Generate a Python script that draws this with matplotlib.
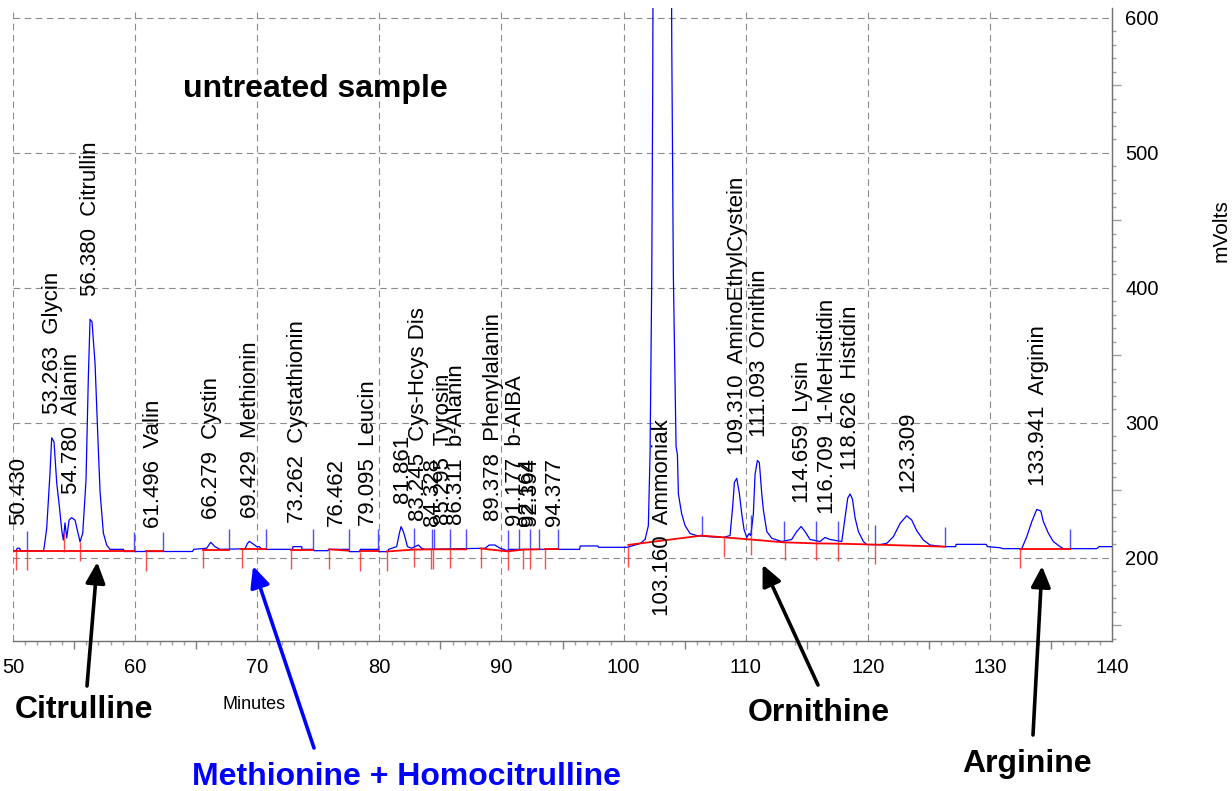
import numpy as np
import matplotlib
matplotlib.use('Agg')
import matplotlib.pyplot as plt
from matplotlib.ticker import FixedLocator, MultipleLocator, FuncFormatter

plt.rcParams['font.family'] = ['Liberation Sans', 'DejaVu Sans']

# detector signal, (minutes, mV)
trace = [
    (50.0, 205.3), (50.25, 205.3), (50.35, 207.2), (50.55, 207.2), (50.62, 205.3),
    (52.5, 205.3), (52.56, 208.4), (52.76, 222.0), (53.03, 263.0), (53.17, 289.0),
    (53.36, 286.0), (53.58, 255.5), (53.8, 238.0), (53.99, 220.7), (54.12, 213.3),
    (54.26, 226.0), (54.4, 214.8), (54.59, 228.0), (54.8, 229.9), (55.08, 228.0),
    (55.27, 220.7), (55.49, 212.0), (55.71, 218.3), (55.98, 257.8), (56.17, 334.0),
    (56.31, 376.8), (56.47, 375.0), (56.72, 344.0), (56.99, 280.0), (57.13, 249.0),
    (57.4, 218.5), (57.67, 209.6), (57.94, 206.4), (59.05, 206.4), (59.1, 204.8),
    (64.7, 204.8), (64.8, 206.4), (65.86, 207.2), (66.19, 211.6), (66.54, 208.4),
    (66.95, 206.4), (69.0, 206.8), (69.19, 210.6), (69.35, 212.3), (69.63, 210.6),
    (69.96, 208.4), (70.17, 208.4), (70.37, 206.4), (72.9, 206.4), (72.92, 208.4),
    (73.64, 208.4), (73.66, 206.4), (74.6, 206.4), (74.65, 205.4), (75.8, 205.4),
    (75.85, 206.4), (77.5, 206.4), (77.55, 204.7), (78.4, 204.7), (78.45, 206.4),
    (79.9, 206.4), (79.95, 204.7), (80.7, 204.7), (80.75, 206.4), (81.42, 208.4),
    (81.64, 218.3), (81.78, 223.2), (81.97, 219.5), (82.13, 214.6), (82.3, 208.4),
    (82.65, 207.2), (82.92, 208.4), (83.2, 209.6), (83.47, 207.2), (83.74, 206.4),
    (88.66, 207.2), (89.0, 209.6), (89.47, 209.6), (89.88, 207.2), (90.2, 206.4),
    (90.43, 205.4), (90.7, 206.4), (96.4, 206.4), (96.45, 208.9), (97.9, 208.9),
    (97.95, 207.9), (100.3, 207.9), (101.35, 210.7), (101.76, 213.7), (102.03, 223.9),
    (102.17, 276.7), (102.31, 408.4), (102.39, 554.8), (102.44, 700.0), (103.16, 2400.0),
    (103.89, 700.0), (103.95, 578.0), (104.08, 408.4), (104.3, 282.5), (104.41, 276.7),
    (104.49, 247.4), (104.76, 232.7), (105.04, 223.9), (105.45, 218.1), (105.99, 216.6),
    (107.08, 215.7), (108.17, 215.2), (108.72, 216.6), (108.94, 238.5), (109.08, 256.1),
    (109.27, 259.0), (109.49, 247.4), (109.68, 232.7), (109.87, 221.0), (110.09, 215.2),
    (110.28, 218.1), (110.42, 216.6), (110.63, 232.7), (110.77, 262.0), (110.96, 272.2),
    (111.12, 270.7), (111.32, 247.4), (111.45, 235.6), (111.73, 219.6), (112.14, 214.6),
    (112.96, 212.2), (113.77, 213.7), (114.18, 219.6), (114.54, 223.3), (114.86, 219.6),
    (115.27, 213.7), (116.09, 212.2), (116.5, 215.2), (116.91, 213.7), (117.87, 212.2),
    (118.09, 226.9), (118.36, 244.4), (118.55, 247.4), (118.74, 243.8), (118.96, 229.8),
    (119.23, 219.6), (119.64, 212.2), (119.92, 209.9), (121.0, 209.9), (121.56, 210.9),
    (122.1, 215.8), (122.65, 225.7), (123.19, 231.3), (123.6, 228.1), (124.01, 220.2),
    (124.55, 213.3), (125.1, 209.6), (126.19, 208.4), (127.2, 208.4), (127.23, 210.1),
    (129.69, 210.1), (129.8, 208.4), (130.84, 207.6), (131.06, 206.9), (132.61, 206.9),
    (133.02, 215.8), (133.43, 226.9), (133.84, 236.0), (134.17, 234.8), (134.38, 226.9),
    (134.79, 218.3), (135.2, 212.1), (135.75, 208.4), (136.02, 206.9), (138.75, 206.9),
    (138.94, 208.4), (140.0, 208.4),
]
trace_t = np.array([p[0] for p in trace])
trace_mv = np.array([p[1] for p in trace])

# integration baseline pieces
baseline_segments = [
    [(50.1, 205.0), (59.9, 205.0)],
    [(60.9, 204.8), (62.3, 204.8)],
    [(65.6, 206.2), (67.7, 206.2)],
    [(68.7, 206.4), (70.7, 206.4)],
    [(72.8, 206.2), (74.6, 206.2)],
    [(75.9, 206.4), (77.5, 205.4)],
    [(78.4, 204.9), (79.9, 204.9)],
    [(80.6, 204.8), (82.8, 206.2), (84.4, 206.4), (87.1, 206.4)],
    [(88.3, 207.0), (90.5, 204.9), (91.8, 206.2), (93.1, 206.4)],
    [(93.6, 206.4), (94.6, 206.4)],
    [(100.4, 209.7), (106.4, 216.6), (110.4, 213.7), (113.1, 211.6), (115.8, 210.8),
     (117.6, 210.6), (120.6, 209.9), (126.3, 208.4)],
    [(132.5, 206.9), (136.6, 206.9)],
]

# peak start / end events
start_marks = [50.25, 51.15, 54.18, 55.49, 60.9, 65.56, 68.75, 72.77, 75.9, 78.4,
               80.6, 82.8, 84.2, 84.4, 85.8, 88.3, 90.5, 91.8, 92.3, 93.6,
               100.4, 108.2, 110.4, 113.2, 115.8, 117.6, 120.6, 132.5]
end_marks = [51.15, 59.9, 62.3, 67.7, 70.7, 74.6, 77.5, 79.9, 82.8, 84.3, 84.45,
             85.8, 87.1, 90.5, 91.4, 92.3, 93.1, 94.6, 106.4, 110.4, 113.1, 115.8,
             117.6, 120.6, 126.3, 136.6]

# identified peaks
peak_rt = [50.430, 53.263, 54.780, 56.380, 61.496, 66.279, 69.429, 73.262, 76.462,
           79.095, 81.861, 83.245, 84.328, 85.295, 86.311, 89.378, 91.177, 92.164,
           92.394, 94.377, 103.160, 109.310, 111.093, 114.659, 116.709, 118.626,
           123.309, 133.941]
peak_name = ["", "Glycin", "Alanin", "Citrullin", "Valin", "Cystin", "Methionin",
             "Cystathionin", "", "Leucin", "", "Cys-Hcys Dis", "", "Tyrosin",
             "b-Alanin", "Phenylalanin", "b-AIBA", "", "", "", "Ammoniak",
             "AminoEthylCystein", "Ornithin", "Lysin", "1-MeHistidin", "Histidin",
             "", "Arginin"]

# highlighted compounds: text, arrow tip (minutes, mV), colour
callout_text = ["Citrulline", "Methionine + Homocitrulline", "Ornithine", "Arginine"]
callout_t = [56.9, 69.66, 111.39, 134.27]
callout_mv = [197.0, 194.0, 195.0, 194.0]
callout_color = ["black", "#0000ff", "black", "black"]

W, H = 1232, 791
fig = plt.figure(figsize=(W / 100, H / 100), dpi=100)
ax = fig.add_axes([13 / W, 1 - 641 / H, (1112 - 13) / W, (641 - 8) / H])
y_lo, y_hi = 138.5, 607.4
ax.set_xlim(50, 140)
ax.set_ylim(y_lo, y_hi)

ax.plot(trace_t, trace_mv, color='#0000ff', lw=0.9, zorder=3)
for seg in baseline_segments:
    ax.plot([p[0] for p in seg], [p[1] for p in seg], color='#ff0000', lw=1.3, zorder=4)

start_y = np.interp(start_marks, trace_t, trace_mv)
ax.vlines(start_marks, start_y - 14.5, start_y, color='#ff2020', lw=1.0, alpha=0.8, zorder=4)
end_y = np.interp(end_marks, trace_t, trace_mv)
ax.vlines(end_marks, end_y, end_y + 14.7, color='#2020ff', lw=1.0, alpha=0.8, zorder=3)

# retention time labels above each peak
for rt, name in zip(peak_rt, peak_name):
    window = np.linspace(rt - 0.3, rt + 0.3, 61)
    top = np.interp(window, trace_t, trace_mv).max() + 17.5
    if top > y_hi:
        top = y_lo + 18.5
    label = f"{rt:.3f}  {name}" if name else f"{rt:.3f}"
    ax.text(rt, top, label, rotation=90, ha='center', va='bottom', fontsize=16,
            color='black', zorder=5, clip_on=False)

# axes styling
for s in ('left', 'top'):
    ax.spines[s].set_visible(False)
for s in ('bottom', 'right'):
    ax.spines[s].set_color('#707070')
    ax.spines[s].set_linewidth(1.0)

ax.xaxis.set_major_locator(FixedLocator(np.arange(50, 141, 5)))
ax.xaxis.set_minor_locator(MultipleLocator(1))
ax.xaxis.set_major_formatter(FuncFormatter(lambda v, p: f"{v:.0f}" if round(v) % 10 == 0 else ""))
ax.yaxis.tick_right()
ax.yaxis.set_major_locator(FixedLocator(np.arange(150, 601, 50)))
ax.yaxis.set_minor_locator(MultipleLocator(10))
ax.yaxis.set_major_formatter(FuncFormatter(lambda v, p: f"{v:.0f}" if round(v) % 100 == 0 else ""))

ax.tick_params(axis='x', which='major', length=6, width=1, color='#808080', pad=6, labelsize=14.5)
ax.tick_params(axis='x', which='minor', length=3, width=1, color='#a0a0a0')
ax.tick_params(axis='y', which='major', length=6.5, width=1, color='#a0a0a0', pad=3, labelsize=14.5)
ax.tick_params(axis='y', which='minor', length=3, width=1, color='#a0a0a0')

ax.set_axisbelow(True)
ax.grid(True, which='major', color='#8c8c8c', linestyle=(0, (6, 4)), linewidth=0.8)
for loc, tick in zip(np.arange(50, 141, 5), ax.xaxis.get_major_ticks()):
    if loc % 10 == 0:
        tick.tick1line.set_visible(False)
    else:
        tick.gridline.set_visible(False)
for loc, tick in zip(np.arange(150, 601, 50), ax.yaxis.get_major_ticks()):
    if loc % 100 == 0:
        tick.tick2line.set_visible(False)
    else:
        tick.gridline.set_visible(False)

fig.text(1221 / W, 1 - 231 / H, "mVolts", rotation=90, fontsize=15, ha='center', va='center')
fig.text(222 / W, 1 - 709 / H, "Minutes", fontsize=13, ha='left', va='baseline')
fig.text(183 / W, 1 - 97 / H, "untreated sample", fontsize=23, fontweight='bold',
         ha='left', va='baseline')

# callouts below the axis
text_pos = [(15, 718), (192, 785), (748, 721), (962, 772)]
tail_pos = [(87, 686), (314, 748), (818, 685), (1033, 735)]
for txt, t, mv, col, (tx, ty), (ax_, ay_) in zip(callout_text, callout_t, callout_mv,
                                                   callout_color, text_pos, tail_pos):
    fig.text(tx / W, 1 - ty / H, txt, fontsize=23, fontweight='bold', color=col,
             ha='left', va='baseline')
    ax.annotate('', xy=(t, mv), xycoords='data', xytext=(ax_, H - ay_),
                textcoords='figure pixels', annotation_clip=False,
                arrowprops=dict(arrowstyle='-|>,head_length=0.9,head_width=0.42',
                                mutation_scale=14, lw=2.6, color=col,
                                shrinkA=0, shrinkB=0))

fig.savefig('out.png', dpi=100)
